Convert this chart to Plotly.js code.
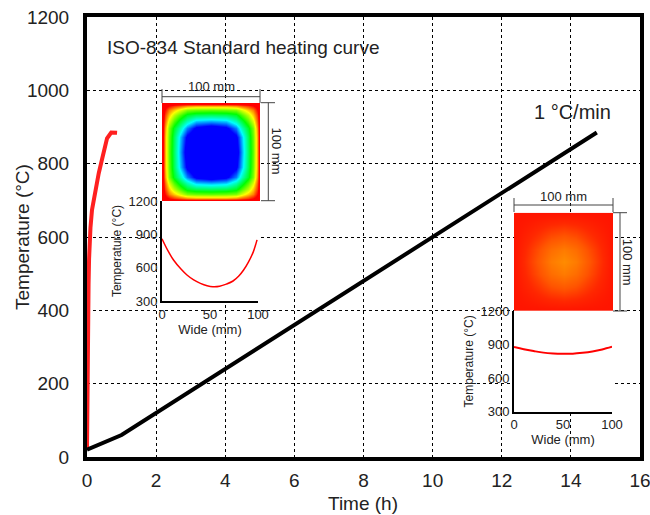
<!DOCTYPE html>
<html>
<head>
<meta charset="utf-8">
<script src="https://cdn.plot.ly/plotly-3.0.1.min.js"></script>
<style>
  html, body { margin: 0; padding: 0; background: #fff; }
  #chart { width: 650px; height: 515px; }
</style>
</head>
<body>
<div id="chart"></div>
<script>
// ISO-834 furnace curve (time in hours, temperature in °C)
const isoTime = [0, 0.005, 0.012, 0.02, 0.03, 0.045, 0.06, 0.08, 0.1, 0.145, 0.24, 0.34, 0.43, 0.5, 0.58, 0.7, 0.87];
const isoTemp = [20, 120, 250, 320, 400, 470, 540, 595, 625, 674, 728, 774, 810, 840, 869, 885, 884];

// Slow heating at 1 °C/min
const slowTime = [0, 1, 14.75];
const slowTemp = [20, 60, 885];

// Mid-section temperature profiles across the 100 mm section
const wideFast = [0, 6, 12, 20, 26, 33, 40, 47, 53, 60, 67, 74, 80, 85, 90, 95, 99];
const tempFast = [860, 755, 669, 585, 534, 490, 459, 438, 429, 433, 452, 480, 525, 579, 650, 740, 850];
const wideSlow = [0, 10, 20, 30, 40, 50, 60, 70, 80, 90, 100];
const tempSlow = [878, 858, 842, 828, 821, 818, 818, 826, 838, 856, 880];

// Cross-section fields (relative level: 0 = coolest core, 1 = hot surface)
const fieldFastPos = [0, 3, 7, 12, 18, 25, 35, 50, 65, 75, 82, 88, 93, 97, 100];
const fieldFast = [
  [1, 1, 1, 1, 1, 1, 1, 1, 1, 1, 1, 1, 1, 1, 1],
  [1, .95, .91, .87, .84, .80, .78, .78, .78, .80, .84, .87, .91, .95, 1],
  [1, .91, .82, .76, .69, .61, .59, .58, .59, .61, .69, .76, .82, .91, 1],
  [1, .87, .76, .66, .57, .47, .43, .42, .43, .47, .57, .66, .76, .87, 1],
  [1, .84, .69, .57, .46, .36, .27, .25, .27, .36, .46, .57, .69, .84, 1],
  [1, .80, .61, .47, .36, .22, .12, .08, .12, .22, .36, .47, .61, .80, 1],
  [1, .78, .59, .43, .27, .12, .05, .02, .05, .12, .27, .43, .59, .78, 1],
  [1, .78, .58, .42, .25, .08, .02, 0, .02, .08, .25, .42, .58, .78, 1],
  [1, .78, .59, .43, .27, .12, .05, .02, .05, .12, .27, .43, .59, .78, 1],
  [1, .80, .61, .47, .36, .22, .12, .08, .12, .22, .36, .47, .61, .80, 1],
  [1, .84, .69, .57, .46, .36, .27, .25, .27, .36, .46, .57, .69, .84, 1],
  [1, .87, .76, .66, .57, .47, .43, .42, .43, .47, .57, .66, .76, .87, 1],
  [1, .91, .82, .76, .69, .61, .59, .58, .59, .61, .69, .76, .82, .91, 1],
  [1, .95, .91, .87, .84, .80, .78, .78, .78, .80, .84, .87, .91, .95, 1],
  [1, 1, 1, 1, 1, 1, 1, 1, 1, 1, 1, 1, 1, 1, 1]
];
const fieldSlowPos = [0, 12.5, 25, 37.5, 50, 62.5, 75, 87.5, 100];
const fieldSlow = [
  [1, 1, 1, 1, 1, 1, 1, 1, 1],
  [1, .94, .86, .79, .75, .79, .86, .94, 1],
  [1, .86, .70, .53, .45, .53, .70, .86, 1],
  [1, .79, .53, .28, .15, .28, .53, .79, 1],
  [1, .75, .45, .15, 0, .15, .45, .75, 1],
  [1, .79, .53, .28, .15, .28, .53, .79, 1],
  [1, .86, .70, .53, .45, .53, .70, .86, 1],
  [1, .94, .86, .79, .75, .79, .86, .94, 1],
  [1, 1, 1, 1, 1, 1, 1, 1, 1]
];

// Main plot area in pixels, used to place the insets and dimension marks
const W = 650, H = 515;
const PL = 87, PR = 640, PT = 17, PB = 457;
const fx = p => (p - PL) / (PR - PL);
const fy = p => (PB - p) / (PB - PT);

const FONT = 'Liberation Sans, Arial, sans-serif';
const TXT = '#222';

const traces = [
  { x: isoTime, y: isoTemp, xaxis: 'x', yaxis: 'y', mode: 'lines',
    line: { color: '#ff2020', width: 4 }, hoverinfo: 'skip' },
  { x: slowTime, y: slowTemp, xaxis: 'x', yaxis: 'y', mode: 'lines',
    line: { color: '#000', width: 4 } },
  { x: wideFast, y: tempFast, xaxis: 'x2', yaxis: 'y2', mode: 'lines',
    line: { color: '#ff0000', width: 1.5, shape: 'spline' } },
  { x: wideSlow, y: tempSlow, xaxis: 'x3', yaxis: 'y3', mode: 'lines',
    line: { color: '#ff0000', width: 2, shape: 'spline' } },
  { type: 'heatmap', x: fieldFastPos, y: fieldFastPos, z: fieldFast,
    xaxis: 'x4', yaxis: 'y4', zsmooth: 'best', showscale: false, zmin: 0, zmax: 1,
    colorscale: [[0, '#0000ff'], [0.14, '#0000ff'], [0.3, '#00ffff'], [0.5, '#00ff00'],
                 [0.72, '#ffff00'], [0.92, '#ff0000'], [1, '#ff0000']] },
  { type: 'heatmap', x: fieldSlowPos, y: fieldSlowPos, z: fieldSlow,
    xaxis: 'x5', yaxis: 'y5', zsmooth: 'best', showscale: false, zmin: 0, zmax: 1,
    colorscale: [[0, '#ff8c00'], [0.5, '#ff5500'], [0.8, '#ff2800'], [1, '#ff1400']] }
];

const insetX = (d) => ({
  domain: d, range: [0, 100], tickvals: [0, 50, 100], ticks: '',
  showgrid: false, zeroline: false,
  showline: true, linecolor: '#000', linewidth: 2,
  tickfont: { family: FONT, size: 13, color: TXT },
  title: { text: 'Wide (mm)', font: { family: FONT, size: 13, color: TXT }, standoff: 0 }
});
const insetY = (d) => ({
  domain: d, range: [300, 1200], tickvals: [300, 600, 900, 1200], ticks: '',
  showgrid: false, zeroline: false, showline: true, linecolor: '#000', linewidth: 2,
  tickfont: { family: FONT, size: 13, color: TXT },
  title: { text: 'Temperature (°C)', font: { family: FONT, size: 12, color: TXT }, standoff: 4 }
});
const hidden = (d) => ({ domain: d, range: [0, 100], visible: false, fixedrange: true });

const dimColor = '#444';
const seg = (x0, y0, x1, y1) => ({ type: 'line', xref: 'paper', yref: 'paper',
  x0: fx(x0), y0: fy(y0), x1: fx(x1), y1: fy(y1), line: { color: dimColor, width: 1 } });

const shapes = [
  // section of the fast-heated sample
  seg(162, 96.7, 260, 96.7), seg(162, 89, 162, 103), seg(260, 89, 260, 103),
  seg(268.3, 102.7, 268.3, 200.7), seg(261, 102.7, 275, 102.7), seg(261, 200.7, 275, 200.7),
  // section of the slowly heated sample
  seg(514, 205, 613, 205), seg(514, 198, 514, 212), seg(613, 198, 613, 212),
  seg(620, 212.7, 620, 311), seg(613, 212.7, 627, 212.7), seg(613, 311, 627, 311)
];

const note = (text, x, y, size, angle) => ({
  text, xref: 'paper', yref: 'paper', x: fx(x), y: fy(y), showarrow: false,
  xanchor: 'center', yanchor: 'middle', textangle: angle || 0,
  font: { family: FONT, size, color: TXT }
});

const annotations = [
  Object.assign(note('ISO-834 Standard heating curve', 105, 48, 19), { xanchor: 'left' }),
  note('1 °C/min', 572, 112, 20),
  note('100 mm', 211, 86, 13),
  note('100 mm', 276.5, 151, 13, 90),
  note('100 mm', 563, 196, 13),
  note('100 mm', 628.3, 262, 13, 90),
  note('Time (h)', 363, 503, 19),
  note('Temperature (°C)', 22, 237, 19, -90)
];

const layout = {
  width: W, height: H,
  margin: { l: PL, r: W - PR, t: PT, b: H - PB },
  paper_bgcolor: '#fff', plot_bgcolor: '#fff',
  showlegend: false,
  font: { family: FONT, color: TXT },
  xaxis: {
    domain: [0, 1], range: [0, 16], dtick: 2, tick0: 0,
    showgrid: true, gridcolor: '#000', gridwidth: 1, griddash: 'dot',
    zeroline: false, showline: true, mirror: true, linecolor: '#000', linewidth: 4,
    ticks: 'outside', ticklen: 3, tickcolor: 'rgba(0,0,0,0)', ticklabeloverflow: 'allow',
    tickfont: { family: FONT, size: 19, color: TXT }
  },
  yaxis: {
    domain: [0, 1], range: [0, 1200], dtick: 200, tick0: 0,
    showgrid: true, gridcolor: '#000', gridwidth: 1, griddash: 'dot',
    zeroline: false, showline: true, mirror: true, linecolor: '#000', linewidth: 4,
    ticks: 'outside', ticklen: 10, tickcolor: 'rgba(0,0,0,0)', ticklabeloverflow: 'allow',
    tickfont: { family: FONT, size: 19, color: TXT }
  },
  xaxis2: Object.assign(insetX([fx(162), fx(258)]), { anchor: 'y2' }),
  yaxis2: Object.assign(insetY([fy(301), fy(201)]), { anchor: 'x2' }),
  xaxis3: Object.assign(insetX([fx(514), fx(612)]), { anchor: 'y3' }),
  yaxis3: Object.assign(insetY([fy(411.7), fy(311)]), { anchor: 'x3' }),
  xaxis4: Object.assign(hidden([fx(162), fx(260)]), { anchor: 'y4' }),
  yaxis4: Object.assign(hidden([fy(201), fy(103)]), { anchor: 'x4' }),
  xaxis5: Object.assign(hidden([fx(514), fx(613)]), { anchor: 'y5' }),
  yaxis5: Object.assign(hidden([fy(311), fy(212.7)]), { anchor: 'x5' }),
  shapes, annotations
};

Plotly.newPlot('chart', traces, layout, { displayModeBar: false, staticPlot: true });
</script>
</body>
</html>
